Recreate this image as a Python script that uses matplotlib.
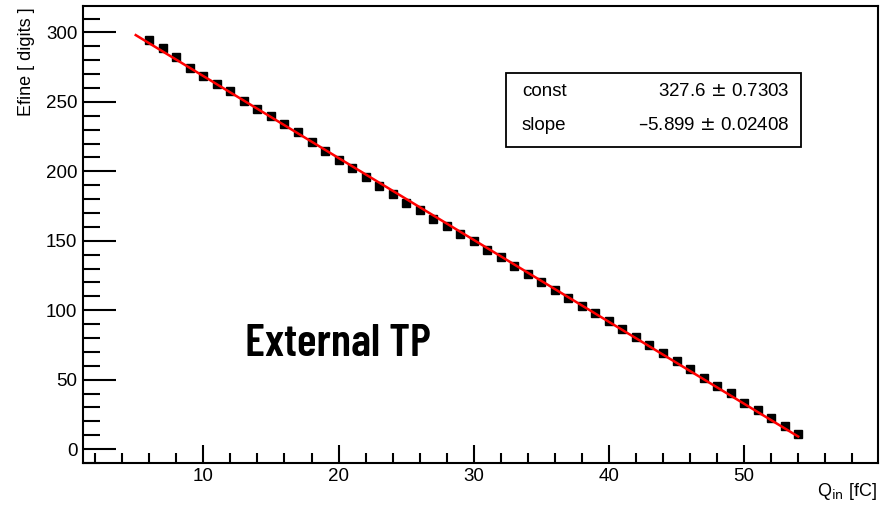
import matplotlib.pyplot as plt
import matplotlib.font_manager as fm
import numpy as np
from matplotlib.ticker import MultipleLocator

# charge injected [fC] and measured Efine [digits]
q_in = list(range(6, 55))
efine = [294.5, 289, 282, 274.5, 268.5, 263, 257.5, 251, 245, 239.5,
         234, 228, 221, 215, 208.5, 202.5, 196, 189.5, 184, 177.5,
         172, 166, 160.5, 155, 149.5, 143.5, 138, 131.5, 126, 120,
         114.5, 109, 103, 98, 92, 86.5, 81, 75, 69.5, 63.5,
         58, 51.5, 45.5, 40.5, 33.5, 28.3, 22.3, 16.3, 11]
efine_err = [1.2] * 45 + [1.5, 1.5, 2.0, 3.0]

fit_const = 327.6
fit_const_err = 0.7303
fit_slope = -5.899
fit_slope_err = 0.02408
fit_range = [5, 54]

plt.rcParams['font.family'] = ['Liberation Sans', 'DejaVu Sans']


def condensed_font():
    # pick a narrow display face for the big label, if one is installed
    files = {f.fname.split('/')[-1]: f.fname for f in fm.fontManager.ttflist}
    for name in ['Oswald-Medium.ttf', 'Oswald-Regular.ttf', 'BarlowCondensed-SemiBold.ttf',
                 'BarlowCondensed-Medium.ttf']:
        if name in files:
            return fm.FontProperties(fname=files[name], size=33)
    return fm.FontProperties(family='DejaVu Sans', weight='bold', stretch='condensed', size=28)


fig = plt.figure(figsize=(8.88, 5.07), dpi=100)
ax = fig.add_axes([0.0935, 0.0868, 0.8952, 0.9012])

ax.errorbar(q_in, efine, yerr=efine_err, fmt='s', color='black',
            ms=5.5, elinewidth=1.8, capsize=0, zorder=3)
fx = np.array(fit_range)
ax.plot(fx, fit_const + fit_slope * fx, color='red', lw=1.8, zorder=4)

ax.set_xlim(1.1, 59.9)
ax.set_ylim(-10, 319)
ax.xaxis.set_major_locator(MultipleLocator(10))
ax.xaxis.set_minor_locator(MultipleLocator(2))
ax.yaxis.set_major_locator(MultipleLocator(50))
ax.yaxis.set_minor_locator(MultipleLocator(10))
ax.tick_params(which='both', direction='in', top=False, right=False,
               labelsize=13.5, width=1.5)
ax.tick_params(axis='y', which='major', length=24, pad=4)
ax.tick_params(axis='y', which='minor', length=12)
ax.tick_params(axis='x', which='major', length=13)
ax.tick_params(axis='x', which='minor', length=7)
for s in ax.spines.values():
    s.set_linewidth(1.5)

fig.text(0.03, 0.985, 'Efine [ digits ]', rotation=90, ha='center', va='top',
         fontsize=13)
fig.text(0.988, 0.01, r'Q$_{\rm in}$ [fC]', ha='right', va='bottom', fontsize=13)

# fit result box
bx0, by0, bx1, by1 = 505.7, 73.3, 801, 147.3
box = plt.Rectangle((bx0 / 888, 1 - by1 / 507), (bx1 - bx0) / 888, (by1 - by0) / 507,
                    transform=fig.transFigure, fill=True, facecolor='white',
                    edgecolor='black', lw=1.3, zorder=5)
fig.patches.append(box)
rows = [('const', '%.1f $\\pm$ %.4f' % (fit_const, fit_const_err)),
        ('slope', '\u2013%.3f $\\pm$ %.5f' % (-fit_slope, fit_slope_err))]
for i, (name, val) in enumerate(rows):
    yy = 1 - (92 + 34 * i) / 507
    fig.text(522 / 888, yy, name, ha='left', va='center', fontsize=13.5, zorder=6)
    fig.text(790 / 888, yy, val, ha='right', va='center', fontsize=13.5, zorder=6)

fig.text(245 / 888, 1 - 344 / 507, 'External TP', ha='left', va='center',
         fontproperties=condensed_font())

fig.savefig('out.png', dpi=100)
